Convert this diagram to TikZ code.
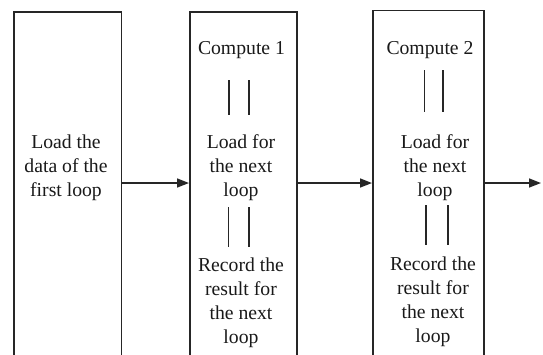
\documentclass[tikz,border=0pt]{standalone}
\usepackage{fontspec}
\setmainfont{Liberation Serif}
\usetikzlibrary{arrows.meta}
\begin{document}
\begin{tikzpicture}[x=1pt,y=-1pt,
  box/.style={draw=black!85, line width=1.8pt, minimum width=#1, minimum height=380pt, anchor=north west, inner sep=0pt},
  lbl/.style={font=\fontsize{19.7}{24}\selectfont, align=center, anchor=base, inner sep=0pt, text=black!90},
  bar/.style={line width=1.8pt, draw=black!85},
  flow/.style={line width=1.6pt, draw=black!85, -{Triangle[length=12pt,width=9pt]}}]
\useasboundingbox (0,0) rectangle (543,354);
\clip (0,0) rectangle (543,354);
\node[box=107.5pt] (b1) at (13,11) {};
\node[box=107pt] (b2) at (189,11) {};
\node[box=111pt] (b3) at (372,9.5) {};
\coordinate (row) at (0,183);
\coordinate (out) at (541,183);
% box 1 (base anchor = last line)
\node[lbl] (t1) at (66,196) {Load the\\data of the\\first loop};
% box 2
\node[lbl] (c1) at (241.5,54) {Compute 1};
\node[lbl] (l1) at (241,196) {Load for\\the next\\loop};
\node[lbl] (r1) at (241,343) {Record the\\result for\\the next\\loop};
\draw[bar] (229,80) -- (229,115);
\draw[bar] (249,80) -- (249,115);
\draw[bar] (228.5,207) -- (228.5,247);
\draw[bar] (249,207) -- (249,247);
% box 3
\node[lbl] (c2) at (430,54) {Compute 2};
\node[lbl] (l2) at (435,196) {Load for\\the next\\loop};
\node[lbl] (r2) at (433,342) {Record the\\result for\\the next\\loop};
\draw[bar] (424.5,70) -- (424.5,112);
\draw[bar] (443,70) -- (443,112);
\draw[bar] (426,205) -- (426,245);
\draw[bar] (448,205) -- (448,245);
% arrows
\draw[flow] (b1.east |- row) -- (b2.west |- row);
\draw[flow] (b2.east |- row) -- (b3.west |- row);
\draw[flow] (b3.east |- row) -- (out);
\end{tikzpicture}
\end{document}
